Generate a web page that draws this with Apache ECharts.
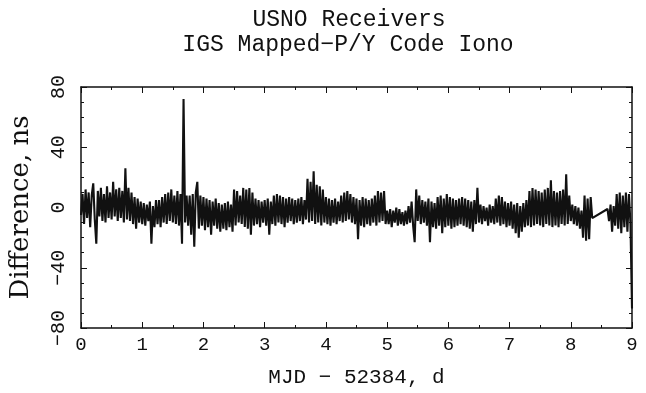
<!DOCTYPE html>
<html>
<head>
<meta charset="utf-8">
<script src="https://cdn.jsdelivr.net/npm/echarts@6/dist/echarts.min.js"></script>
<style>
  html, body { margin: 0; padding: 0; background: #fff; }
  #chart { width: 646px; height: 393px; }
</style>
</head>
<body>
<div id="chart"></div>
<script>
// sample spacing in days (MJD - 52384)
const STEP = 0.025
// difference values, ns, 10 samples per row (0.25 d)
const diffNs = [
  -5, 9, -11, 12, -7, 10, -13, 8, 16, -8,
  -24, 11, -6, 13, -9, 9, -10, 14, -7, 10,
  -8, 17, -6, 12, -9, 13, -7, 11, -10, 26,
  -8, 13, -9, 10, -11, 7, -14, 6, -10, 4,
  -11, 3, -12, 2, -9, 4, -24, 1, -13, 5,
  -11, 5, -13, 7, -10, 9, -11, 10, -9, 12,
  -10, 8, -11, 11, -12, 9, -24, 72, -10, 8,
  -12, 8, -18, 9, -26, 10, 17, -14, 8, -12,
  7, -15, 6, -13, 5, -18, 4, -12, 6, -14,
  3, -16, 2, -14, 3, -15, 4, -13, 2, -16,
  12, -12, 11, -10, 8, -11, 13, -13, 12, -14,
  13, -18, 10, -12, 6, -11, 5, -13, 4, -10,
  5, -12, 6, -18, 4, -11, 8, -12, 9, -10,
  8, -11, 7, -13, 6, -10, 7, -9, 6, -11,
  5, -10, 6, -9, 7, -11, 5, -8, 19, -10,
  17, -9, 24, -11, 15, -10, 14, -12, 12, -10,
  7, -11, 6, -12, 5, -10, 6, -11, 4, -9,
  8, -10, 10, -9, 11, -8, 9, -10, 7, -11,
  6, -21, 5, -12, 7, -13, 6, -11, 5, -12,
  6, -10, 8, -12, 11, -10, 10, -9, 11, -11,
  -2, -11, -1, -13, -2, -10, 0, -12, -1, -11,
  -3, -12, -2, -11, 1, -10, 4, -12, -23, 12,
  -9, 8, -11, 5, -10, 4, -12, 6, -23, 4,
  -13, 3, -14, 7, -12, 8, -17, 6, -13, 9,
  -12, 7, -14, 6, -13, 5, -12, 6, -11, 7,
  -12, 6, -13, 5, -14, 4, -16, 5, -11, 13,
  -10, 2, -11, 1, -9, 0, -12, 2, -10, 1,
  -11, 6, -10, 8, -12, 7, -11, 4, -13, 3,
  -12, 4, -14, 2, -17, 3, -20, 1, -16, 3,
  -13, 5, -12, 11, -13, 13, -12, 12, -11, 11,
  -12, 10, -13, 12, -11, 13, -12, 18, -13, 11,
  -12, 10, -13, 11, -11, 12, -12, 22, -11, 8,
  -9, 2, -11, 1, -12, 0, -14, -2, -20, 8,
  -22, 6, -21, 7, -7, null, null, null, null, null,
  null, null, null, null, -1, -9, 2, -16, 1, -12,
  9, -14, 10, -17, 8, -13, 10, -16, 9, -11,
  -67
]
const xTicks = [0, 1, 2, 3, 4, 5, 6, 7, 8, 9]
const yTicks = [-80, -40, 0, 40, 80]

const ink = '#111'
const mono = '"Liberation Mono", "DejaVu Sans Mono", monospace'

const chart = echarts.init(document.getElementById('chart'), null, { renderer: 'canvas' })

const points = diffNs.map((v, i) => [+(i * STEP).toFixed(3), v])

const minus = v => String(v).replace('-', '\u2212')
const axisLine = { show: true, onZero: false, lineStyle: { color: ink, width: 1.5 } }
const inTick = { show: true, inside: true, length: 6, lineStyle: { color: ink, width: 1 } }
const xMinor = { show: true, splitNumber: 2, length: 3, lineStyle: { color: ink, width: 1 } }
const yMinor = { show: true, splitNumber: 4, length: 3, lineStyle: { color: ink, width: 1 } }

const option = {
  animation: false,
  backgroundColor: '#fff',
  title: [
    {
      text: 'USNO Receivers',
      left: 344, top: 3, textAlign: 'center',
      textStyle: { fontFamily: mono, fontSize: 23, fontWeight: 'normal', color: ink }
    },
    {
      text: 'IGS Mapped\u2212P/Y Code Iono',
      left: 343, top: 28, textAlign: 'center',
      textStyle: { fontFamily: mono, fontSize: 23, fontWeight: 'normal', color: ink }
    }
  ],
  grid: { left: 75, right: 14, top: 87, bottom: 60 },
  xAxis: [
    {
      type: 'value', position: 'bottom',
      min: xTicks[0], max: xTicks[xTicks.length - 1], interval: 1,
      name: 'MJD \u2212 52384, d',
      nameLocation: 'middle', nameGap: 39,
      nameTextStyle: { fontFamily: mono, fontSize: 21, color: ink },
      axisLine: axisLine, axisTick: inTick, minorTick: xMinor,
      axisLabel: { fontFamily: mono, fontSize: 19, color: ink, margin: 7 },
      splitLine: { show: false }
    },
    {
      type: 'value', position: 'top',
      min: xTicks[0], max: xTicks[xTicks.length - 1], interval: 1,
      axisLine: axisLine, axisTick: inTick, minorTick: xMinor,
      axisLabel: { show: false }, splitLine: { show: false }
    }
  ],
  yAxis: [
    {
      type: 'value', position: 'left',
      min: yTicks[0], max: yTicks[yTicks.length - 1], interval: 40,
      name: 'Difference, ns',
      nameLocation: 'middle', nameGap: 47, nameRotate: 90,
      nameTextStyle: { fontFamily: '"DejaVu Serif", serif', fontSize: 26, color: ink },
      axisLine: axisLine, axisTick: inTick, minorTick: yMinor,
      axisLabel: { fontFamily: mono, fontSize: 20, color: ink, rotate: 90, margin: 12, formatter: minus },
      splitLine: { show: false }
    },
    {
      type: 'value', position: 'right',
      min: yTicks[0], max: yTicks[yTicks.length - 1], interval: 40,
      axisLine: axisLine, axisTick: inTick, minorTick: yMinor,
      axisLabel: { show: false }, splitLine: { show: false }
    }
  ],
  series: [
    {
      type: 'line',
      data: points,
      symbol: 'none',
      connectNulls: true,
      lineStyle: { color: ink, width: 2.1, join: 'bevel' }
    }
  ]
}

chart.setOption(option)
</script>
</body>
</html>
